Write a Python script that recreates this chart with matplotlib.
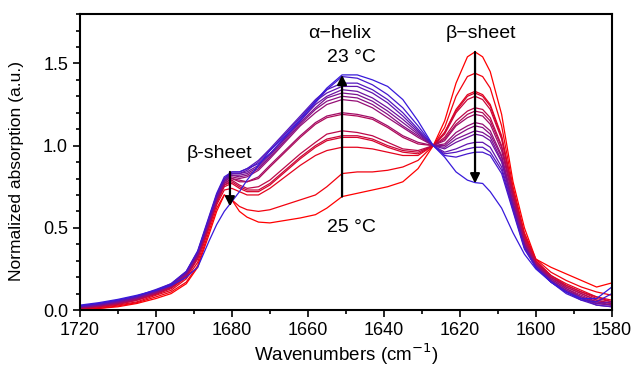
import numpy as np
import matplotlib
matplotlib.use("Agg")
import matplotlib.pyplot as plt
from matplotlib.ticker import MultipleLocator

plt.rcParams['font.family'] = ['Liberation Sans', 'DejaVu Sans']

# wavenumber grid (cm^-1) the spectra were read at
wn = [1720, 1715, 1710, 1705, 1700, 1696, 1692, 1689, 1686, 1684, 1682,
      1680, 1678, 1676, 1673, 1670, 1666, 1662, 1658, 1655, 1651,
      1647, 1643, 1639, 1635, 1631, 1627,
      1624, 1621, 1618, 1616, 1614, 1612, 1609, 1606, 1603, 1600, 1596, 1592, 1588, 1584, 1580]

# spectra, reddest (first) to bluest (last)
spectra = [
    [0.00, 0.01, 0.02, 0.04, 0.07, 0.10, 0.16, 0.26, 0.46, 0.60, 0.70,
     0.67, 0.60, 0.565, 0.535, 0.53, 0.545, 0.56, 0.58, 0.62, 0.69,
     0.71, 0.73, 0.75, 0.78, 0.86, 1.00,
     1.15, 1.38, 1.54, 1.57, 1.54, 1.45, 1.19, 0.78, 0.50, 0.31, 0.26, 0.22, 0.18, 0.14, 0.165],
    [0.00, 0.01, 0.025, 0.045, 0.08, 0.11, 0.17, 0.27, 0.48, 0.62, 0.70,
     0.67, 0.63, 0.61, 0.60, 0.61, 0.64, 0.67, 0.70, 0.75, 0.83,
     0.84, 0.84, 0.85, 0.87, 0.91, 1.00,
     1.11, 1.30, 1.42, 1.44, 1.42, 1.35, 1.12, 0.75, 0.47, 0.31, 0.23, 0.18, 0.14, 0.11, 0.09],
    [0.005, 0.015, 0.03, 0.05, 0.09, 0.12, 0.19, 0.29, 0.50, 0.64, 0.73,
     0.74, 0.72, 0.70, 0.70, 0.74, 0.81, 0.88, 0.94, 0.97, 0.99,
     0.99, 0.98, 0.96, 0.94, 0.94, 1.00,
     1.08, 1.22, 1.31, 1.33, 1.31, 1.25, 1.06, 0.73, 0.46, 0.30, 0.21, 0.16, 0.12, 0.08, 0.06],
    [0.01, 0.02, 0.035, 0.06, 0.095, 0.13, 0.20, 0.31, 0.51, 0.65, 0.75,
     0.77, 0.74, 0.72, 0.72, 0.76, 0.84, 0.92, 0.99, 1.03, 1.05,
     1.05, 1.03, 0.99, 0.96, 0.95, 1.00,
     1.08, 1.21, 1.30, 1.32, 1.30, 1.24, 1.05, 0.72, 0.45, 0.30, 0.21, 0.15, 0.11, 0.08, 0.05],
    [0.01, 0.02, 0.035, 0.06, 0.10, 0.135, 0.20, 0.32, 0.52, 0.66, 0.76,
     0.78, 0.75, 0.73, 0.73, 0.77, 0.85, 0.93, 1.00, 1.04, 1.06,
     1.06, 1.04, 1.00, 0.97, 0.96, 1.00,
     1.07, 1.20, 1.28, 1.30, 1.28, 1.22, 1.04, 0.71, 0.44, 0.29, 0.20, 0.15, 0.11, 0.07, 0.05],
    [0.01, 0.025, 0.04, 0.065, 0.10, 0.14, 0.21, 0.32, 0.52, 0.66, 0.76,
     0.79, 0.76, 0.74, 0.75, 0.79, 0.87, 0.95, 1.02, 1.07, 1.09,
     1.08, 1.06, 1.02, 0.98, 0.97, 1.00,
     1.05, 1.15, 1.21, 1.23, 1.22, 1.17, 1.00, 0.70, 0.43, 0.29, 0.20, 0.14, 0.10, 0.06, 0.04],
    [0.015, 0.025, 0.04, 0.065, 0.105, 0.14, 0.21, 0.33, 0.53, 0.67, 0.77,
     0.80, 0.78, 0.78, 0.80, 0.87, 0.96, 1.05, 1.13, 1.17, 1.19,
     1.18, 1.16, 1.11, 1.05, 1.01, 1.00,
     1.04, 1.13, 1.19, 1.21, 1.20, 1.15, 0.99, 0.69, 0.42, 0.28, 0.20, 0.14, 0.10, 0.06, 0.04],
    [0.015, 0.025, 0.045, 0.07, 0.105, 0.145, 0.215, 0.33, 0.53, 0.67, 0.77,
     0.80, 0.79, 0.78, 0.81, 0.88, 0.97, 1.06, 1.14, 1.18, 1.20,
     1.19, 1.17, 1.12, 1.06, 1.02, 1.00,
     1.03, 1.12, 1.17, 1.19, 1.18, 1.13, 0.97, 0.68, 0.41, 0.28, 0.19, 0.13, 0.09, 0.05, 0.04],
    [0.015, 0.03, 0.045, 0.07, 0.11, 0.145, 0.22, 0.34, 0.54, 0.68, 0.78,
     0.81, 0.80, 0.81, 0.85, 0.92, 1.02, 1.12, 1.20, 1.25, 1.28,
     1.27, 1.23, 1.17, 1.11, 1.05, 1.00,
     1.01, 1.08, 1.12, 1.14, 1.13, 1.09, 0.94, 0.66, 0.40, 0.27, 0.19, 0.13, 0.08, 0.05, 0.03],
    [0.02, 0.03, 0.05, 0.075, 0.11, 0.15, 0.22, 0.34, 0.54, 0.68, 0.78,
     0.82, 0.81, 0.82, 0.86, 0.93, 1.03, 1.13, 1.22, 1.27, 1.30,
     1.29, 1.25, 1.19, 1.12, 1.06, 1.00,
     1.00, 1.06, 1.10, 1.12, 1.11, 1.07, 0.93, 0.65, 0.40, 0.27, 0.18, 0.12, 0.08, 0.04, 0.03],
    [0.02, 0.03, 0.05, 0.075, 0.115, 0.15, 0.225, 0.345, 0.55, 0.69, 0.79,
     0.82, 0.82, 0.83, 0.87, 0.94, 1.04, 1.14, 1.23, 1.29, 1.32,
     1.31, 1.27, 1.21, 1.14, 1.07, 1.00,
     0.99, 1.04, 1.07, 1.09, 1.08, 1.05, 0.91, 0.64, 0.39, 0.27, 0.18, 0.12, 0.07, 0.04, 0.03],
    [0.02, 0.035, 0.055, 0.08, 0.115, 0.155, 0.23, 0.35, 0.55, 0.69, 0.79,
     0.83, 0.83, 0.84, 0.88, 0.95, 1.05, 1.15, 1.25, 1.30, 1.34,
     1.33, 1.29, 1.23, 1.16, 1.08, 1.00,
     0.98, 1.02, 1.05, 1.07, 1.06, 1.03, 0.90, 0.63, 0.39, 0.26, 0.18, 0.11, 0.07, 0.04, 0.05],
    [0.025, 0.035, 0.055, 0.08, 0.12, 0.155, 0.23, 0.35, 0.56, 0.70, 0.80,
     0.83, 0.83, 0.85, 0.90, 0.97, 1.07, 1.17, 1.27, 1.32, 1.36,
     1.36, 1.32, 1.26, 1.18, 1.09, 1.00,
     0.96, 0.98, 1.01, 1.02, 1.02, 0.99, 0.87, 0.62, 0.38, 0.26, 0.17, 0.11, 0.07, 0.03, 0.02],
    [0.025, 0.04, 0.06, 0.085, 0.12, 0.16, 0.235, 0.355, 0.56, 0.70, 0.80,
     0.84, 0.84, 0.86, 0.91, 0.98, 1.08, 1.18, 1.28, 1.34, 1.38,
     1.38, 1.34, 1.28, 1.20, 1.10, 1.00,
     0.95, 0.96, 0.98, 0.99, 0.99, 0.96, 0.85, 0.61, 0.38, 0.26, 0.17, 0.11, 0.06, 0.03, 0.02],
    [0.025, 0.04, 0.06, 0.085, 0.125, 0.16, 0.235, 0.36, 0.57, 0.71, 0.81,
     0.84, 0.84, 0.86, 0.89, 0.95, 1.05, 1.15, 1.26, 1.34, 1.42,
     1.41, 1.37, 1.31, 1.23, 1.12, 1.00,
     0.94, 0.93, 0.95, 0.96, 0.96, 0.94, 0.83, 0.60, 0.37, 0.26, 0.17, 0.10, 0.06, 0.05, 0.10],
    [0.03, 0.045, 0.065, 0.09, 0.12, 0.15, 0.20, 0.26, 0.42, 0.52, 0.60,
     0.66, 0.72, 0.79, 0.88, 0.97, 1.06, 1.16, 1.27, 1.35, 1.43,
     1.43, 1.40, 1.36, 1.28, 1.15, 1.00,
     0.93, 0.84, 0.79, 0.775, 0.77, 0.72, 0.62, 0.47, 0.34, 0.25, 0.17, 0.11, 0.07, 0.07, 0.14],
]

# arrows: (wavenumber, start value, end value)
arrows = [(1651, 0.69, 1.43), (1616, 1.57, 0.77), (1680.5, 0.84, 0.63)]

fig = plt.figure(figsize=(6.34, 3.70), dpi=100)
ax = fig.add_axes([0.126, 0.162, 0.839, 0.800])

red = np.array([1.0, 0.0, 0.0])
blue = np.array([0.22, 0.10, 0.86])
n = len(spectra)
for i, y in enumerate(spectra):
    f = i / (n - 1)
    ax.plot(wn, y, color=tuple(red * (1 - f) + blue * f), lw=0.9)

for x, y0, y1 in arrows:
    ax.annotate('', xy=(x, y1), xytext=(x, y0),
                arrowprops=dict(arrowstyle='-|>', color='black', lw=1.6,
                                mutation_scale=14, shrinkA=0, shrinkB=0))

ax.text(1683.2, 0.95, 'β-sheet', fontsize=14, ha='center', va='center')
ax.text(1651.6, 1.68, 'α−helix', fontsize=14, ha='center', va='center')
ax.text(1648.4, 1.535, '23 °C', fontsize=14, ha='center', va='center')
ax.text(1648.4, 0.50, '25 °C', fontsize=14, ha='center', va='center')
ax.text(1614.5, 1.68, 'β−sheet', fontsize=14, ha='center', va='center')

ax.set_xlim(1720, 1580)
ax.set_ylim(0, 1.8)
ax.xaxis.set_major_locator(MultipleLocator(20))
ax.xaxis.set_minor_locator(MultipleLocator(10))
ax.yaxis.set_major_locator(MultipleLocator(0.5))
ax.yaxis.set_minor_locator(MultipleLocator(0.1))
ax.yaxis.set_major_formatter(plt.FuncFormatter(lambda v, p: f'{v:.1f}'))
ax.tick_params(which='both', direction='out', labelsize=13, width=1.2)
ax.tick_params(which='major', length=5)
ax.tick_params(which='minor', length=3)
for s in ax.spines.values():
    s.set_linewidth(1.5)

ax.set_xlabel('Wavenumbers (cm$^{-1}$)', fontsize=13.5, labelpad=2)
ax.set_ylabel('Normalized absorption (a.u.)', fontsize=12.5, labelpad=5)
ax.yaxis.set_label_coords(-0.105, 0.47)

fig.savefig('out.png', dpi=100)
